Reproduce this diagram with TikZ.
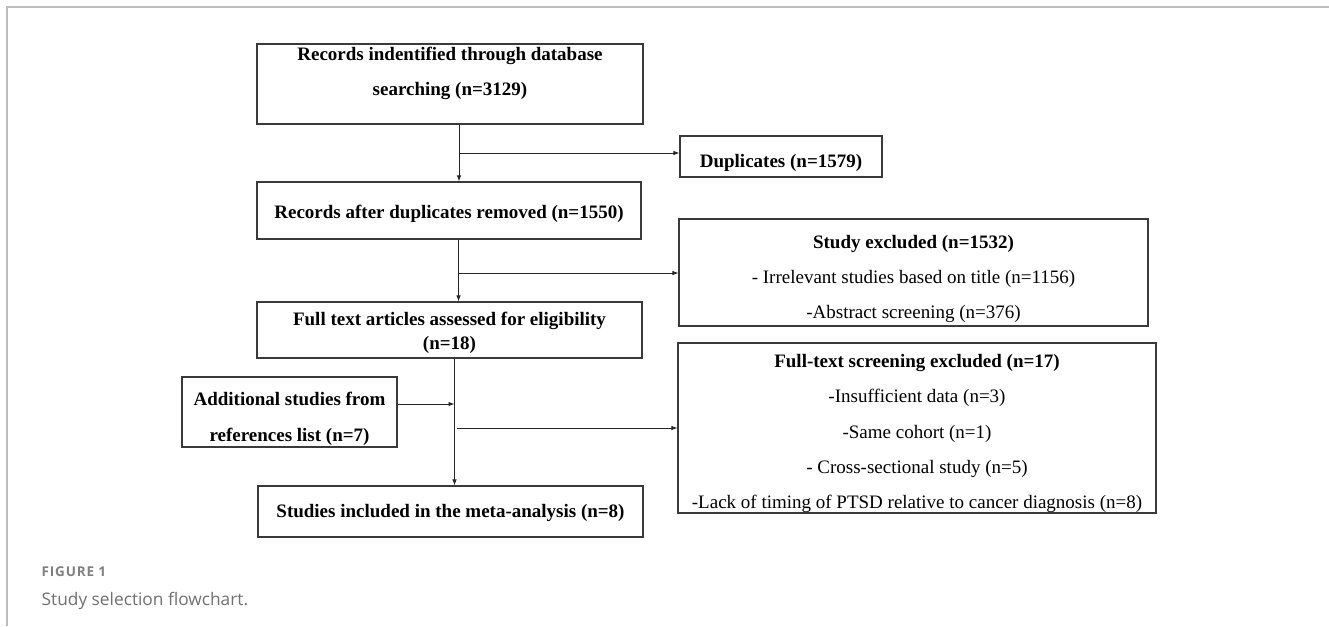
\documentclass[tikz,border=0pt]{standalone}
\usepackage{fontspec}
\setmainfont{Liberation Serif}
\newfontfamily\capfont{Open Sans}
\newfontfamily\figfont[LetterSpace=6]{Open Sans}
\usetikzlibrary{arrows.meta}
\definecolor{framegray}{HTML}{BDBDBD}
\definecolor{boxgray}{HTML}{3A3A3A}
\definecolor{capgray}{HTML}{808080}
\definecolor{captxt}{HTML}{707070}
\begin{document}
\begin{tikzpicture}[x=1pt,y=-1pt,
  box/.style={draw=boxgray,line width=1.1pt,inner sep=0pt},
  txt/.style={anchor=base,inner sep=0pt,align=center},
  conn/.style={draw=black!85,line width=0.9pt,-{Latex[length=6pt,width=4.5pt]}}]
\useasboundingbox (0,0) rectangle (1329,626);
% frame
\draw[framegray,line width=1.5pt] (7,626) -- (7,7) -- (1329,7);
% boxes
\node[box,minimum width=386,minimum height=80] (b1) at (450,84) {};
\node[txt,font=\bfseries\fontsize{19}{35}\selectfont] (t1) at (450,60.7)
  {\begin{tabular}[t]{@{}c@{}}Records indentified through database\\searching (n=3129)\end{tabular}};
\node[box,minimum width=202,minimum height=41] (dup) at (781,156.5) {};
\node[txt,font=\bfseries\fontsize{19}{35}\selectfont] (tdup) at (781,167) {Duplicates (n=1579)};
\node[box,minimum width=384,minimum height=57] (b2) at (449,210.5) {};
\node[txt,font=\bfseries\fontsize{19}{35}\selectfont] (t2) at (449,218) {Records after duplicates removed (n=1550)};
\node[box,minimum width=469,minimum height=107] (ex1) at (913.5,272.5) {};
\node[txt,font=\fontsize{19}{35}\selectfont] (tex1) at (913.5,248.7)
  {\begin{tabular}[t]{@{}c@{}}\textbf{Study excluded (n=1532)}\\- Irrelevant studies based on title (n=1156)\\-Abstract screening (n=376)\end{tabular}};
\node[box,minimum width=385,minimum height=56] (b3) at (449.5,330) {};
\node[txt,font=\bfseries\fontsize{19}{24.3}\selectfont] (t3) at (449.5,325)
  {\begin{tabular}[t]{@{}c@{}}Full text articles assessed for eligibility\\(n=18)\end{tabular}};
\node[box,minimum width=215,minimum height=70] (add) at (289.5,412) {};
\node[txt,font=\bfseries\fontsize{19}{36.7}\selectfont] (tadd) at (289.5,405)
  {\begin{tabular}[t]{@{}c@{}}Additional studies from\\references list (n=7)\end{tabular}};
\node[box,minimum width=478,minimum height=170] (ex2) at (917,428) {};
\node[txt,font=\fontsize{19}{35.4}\selectfont] (tex2) at (917,367.3)
  {\begin{tabular}[t]{@{}c@{}}\textbf{Full-text screening excluded (n=17)}\\-Insufficient data (n=3)\\-Same cohort (n=1)\\- Cross-sectional study (n=5)\\-Lack of timing of PTSD relative to cancer diagnosis (n=8)\end{tabular}};
\node[box,minimum width=385,minimum height=51] (fin) at (450.5,511.5) {};
\node[txt,font=\bfseries\fontsize{19}{35}\selectfont] (tfin) at (450.5,517.7) {Studies included in the meta-analysis (n=8)};
% connectors
\coordinate (j1) at (459,153);
\draw[conn] (b1.south -| j1) -- (b2.north -| j1);
\draw[conn] (j1) -- (dup.west |- j1);
\coordinate (j2) at (458.5,273);
\draw[conn] (b2.south -| j2) -- (b3.north -| j2);
\draw[conn] (j2) -- (ex1.west |- j2);
\coordinate (j3) at (454.5,404);
\draw[conn] (b3.south -| j3) -- (fin.north -| j3);
\draw[conn] (add.east |- j3) -- (j3);
\coordinate (j4) at (457,428);
\draw[conn] (j4) -- (ex2.west |- j4);
% caption
\node[anchor=base west,inner sep=0pt,font=\figfont\bfseries\fontsize{13.5}{16}\selectfont,text=capgray] (fig) at (41.5,576) {FIGURE 1};
\node[anchor=base west,inner sep=0pt,font=\capfont\fontsize{17.3}{20}\selectfont,text=captxt] (cap) at (41.5,605) {Study selection flowchart.};
\end{tikzpicture}
\end{document}
